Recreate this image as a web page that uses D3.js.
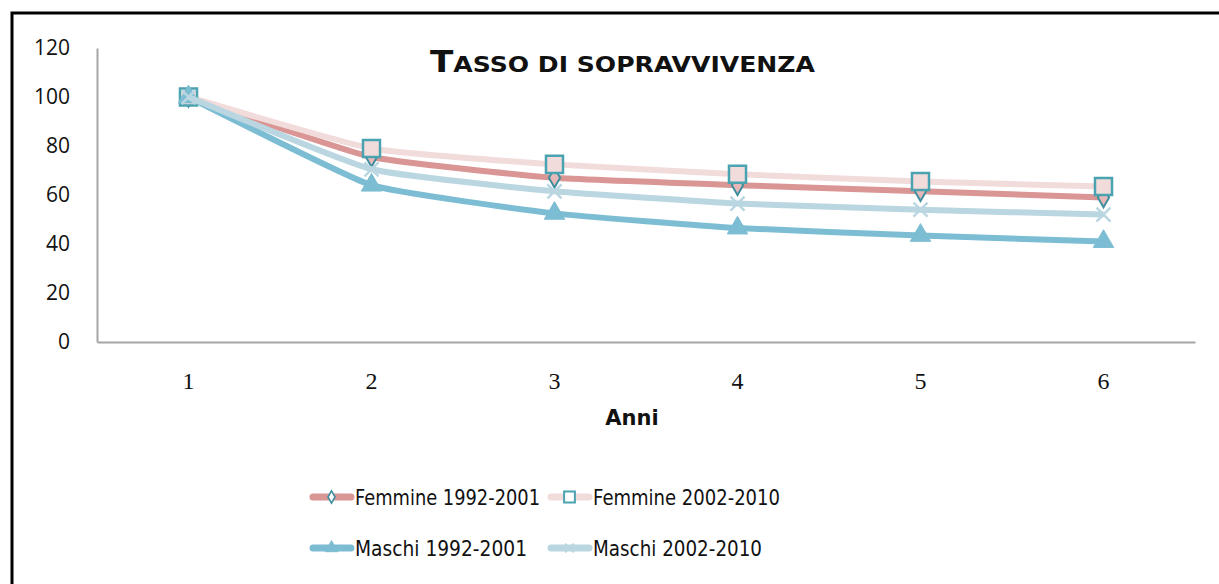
<!DOCTYPE html>
<html>
<head>
<meta charset="utf-8">
<script src="https://cdn.jsdelivr.net/npm/d3@7"></script>
<style>
  body { margin: 0; background: #fff; }
  svg { display: block; }
</style>
</head>
<body>
<script>
// data
var anni = [1, 2, 3, 4, 5, 6];
var femmine9201 = [100, 75.5, 67, 64, 61.5, 59];
var femmine0210 = [100, 79, 72.5, 68.5, 65.5, 63.5];
var maschi9201  = [100, 64, 52.5, 46.5, 43.5, 41];
var maschi0210  = [100, 70.5, 61.5, 56.5, 54, 52];
var yTicks = [0, 20, 40, 60, 80, 100, 120];
var seriesNames = ["Femmine 1992-2001", "Femmine 2002-2010", "Maschi 1992-2001", "Maschi 2002-2010"];

var width = 1219, height = 584;
var margin = {left: 97, right: 24, top: 48, bottom: 242};

var svg = d3.select("body").append("svg").attr("width", width).attr("height", height);
svg.append("rect").attr("width", width).attr("height", height).attr("fill", "white");

// outer frame (runs off right/bottom edge like the crop)
svg.append("rect")
    .attr("x", 12).attr("y", 13)
    .attr("width", width + 20).attr("height", height + 20)
    .attr("fill", "none").attr("stroke", "black").attr("stroke-width", 3);

var x = d3.scaleBand().domain(anni).range([margin.left, width - margin.right]).padding(0);
var y = d3.scaleLinear().domain([0, 120]).range([height - margin.bottom, margin.top]);
var cx = function(d){ return x(d) + x.bandwidth() / 2; };

var xAxis = svg.append("g")
    .attr("transform", "translate(0," + y(0) + ")")
    .call(d3.axisBottom(x).tickSize(0).tickPadding(30));
xAxis.select(".domain").attr("stroke", "#a6a6a6").attr("stroke-width", 2);
xAxis.selectAll("text")
    .attr("font-family", "Liberation Serif, DejaVu Serif, serif")
    .attr("font-size", 24).attr("fill", "#111");

var yAxis = svg.append("g")
    .attr("transform", "translate(" + margin.left + ",0)")
    .call(d3.axisLeft(y).tickValues(yTicks).tickSize(0).tickPadding(27));
yAxis.select(".domain").attr("stroke", "#a6a6a6").attr("stroke-width", 2);
yAxis.selectAll("text")
    .attr("font-family", "Open Sans, sans-serif")
    .attr("font-size", 21).attr("fill", "#111");

// title
var title = svg.append("text")
    .attr("x", 430).attr("y", 72)
    .attr("font-family", "DejaVu Sans, sans-serif")
    .attr("font-weight", 600)
    .attr("fill", "#111")
    .attr("textLength", 385).attr("lengthAdjust", "spacingAndGlyphs");
title.append("tspan").attr("font-size", 30).text("T");
title.append("tspan").attr("font-size", 22).text("ASSO DI SOPRAVVIVENZA");

svg.append("text")
    .attr("x", 632).attr("y", 425)
    .attr("text-anchor", "middle")
    .attr("font-family", "DejaVu Sans, sans-serif")
    .attr("font-weight", "bold").attr("font-size", 21)
    .attr("fill", "#111")
    .text("Anni");

var series = [
  {name: seriesNames[0], values: femmine9201, line: "#d99694", symbol: d3.symbolDiamond, size: 110, fill: "#e6b9b8", stroke: "#3f8f9f", sw: 2, tl: 185},
  {name: seriesNames[1], values: femmine0210, line: "#f2dcdb", symbol: d3.symbolSquare, size: 290, fill: "#f2dcdb", stroke: "#4aa3b0", sw: 2.5, tl: 187},
  {name: seriesNames[2], values: maschi9201,  line: "#7cbdd3", symbol: d3.symbolTriangle, size: 180, fill: "#7cbdd3", stroke: "#7cbdd3", sw: 1, tl: 172},
  {name: seriesNames[3], values: maschi0210,  line: "#b9d6e1", symbol: d3.symbolX, size: 130, fill: "none", stroke: "#b9d6e1", sw: 2.5, tl: 169}
];

var line = d3.line()
    .curve(d3.curveCardinal.tension(0.6))
    .x(function(d, i){ return cx(anni[i]); })
    .y(function(d){ return y(d); });

series.forEach(function(s){
  var g = svg.append("g");
  g.append("path")
      .attr("fill", "none")
      .attr("stroke", s.line)
      .attr("stroke-width", 6)
      .attr("stroke-linejoin", "round")
      .attr("d", line(s.values));
  g.selectAll("path.mk")
    .data(s.values)
    .enter().append("path")
      .attr("class", "mk")
      .attr("transform", function(d, i){ return "translate(" + cx(anni[i]) + "," + y(d) + ")"; })
      .attr("d", d3.symbol().type(s.symbol).size(s.size))
      .attr("fill", s.fill)
      .attr("stroke", s.stroke)
      .attr("stroke-width", s.sw);
});

// legend
var legX = [310, 548];
var legY = [497, 548];
series.forEach(function(s, i){
  var lx = legX[i % 2], ly = legY[Math.floor(i / 2)];
  var g = svg.append("g").attr("transform", "translate(" + lx + "," + ly + ")");
  g.append("line")
      .attr("x1", 3).attr("x2", 41).attr("y1", 0).attr("y2", 0)
      .attr("stroke", s.line).attr("stroke-width", 7)
      .attr("stroke-linecap", "round");
  g.append("path")
      .attr("transform", "translate(21.5,0)")
      .attr("d", d3.symbol().type(s.symbol).size(s.size * 0.4))
      .attr("fill", s.fill == "none" ? "none" : (i < 2 ? "white" : s.fill))
      .attr("stroke", s.stroke)
      .attr("stroke-width", s.sw * 0.8);
  g.append("text")
      .attr("x", 45).attr("y", 8)
      .attr("font-family", "DejaVu Sans, sans-serif")
      .attr("font-size", 21).attr("fill", "#111")
      .attr("textLength", s.tl).attr("lengthAdjust", "spacingAndGlyphs")
      .text(s.name);
});
</script>
</body>
</html>
